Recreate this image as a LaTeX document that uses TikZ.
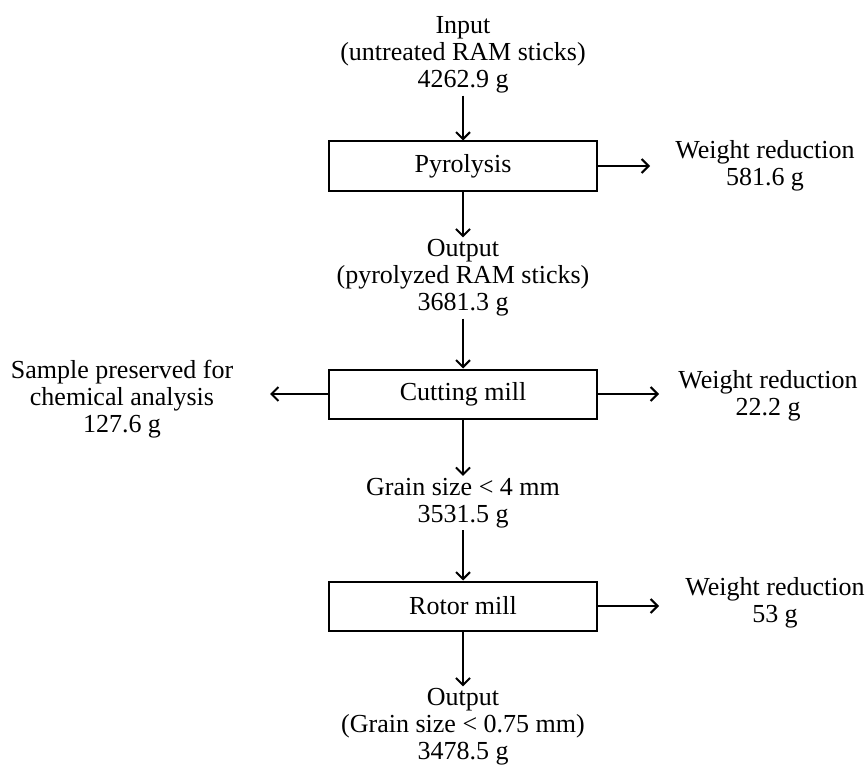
\documentclass[tikz,border=0pt]{standalone}
\usepackage{fontspec}
\setmainfont{Liberation Serif}
\usetikzlibrary{arrows.meta,positioning}

\begin{document}
\begin{tikzpicture}[
  x=1pt, y=1pt,
  every node/.style={font=\fontsize{26}{27}\selectfont, align=center, inner sep=2pt},
  stage/.style={draw, line width=2pt, minimum width=268pt, minimum height=49pt, inner sep=0pt},
  flow/.style={->, line width=2pt},
  >={Straight Barb[length=7pt,width=14pt]}
]
\useasboundingbox (0,0) rectangle (865,-765);
% main line
\node (input) at (463,-55) {Input\\(untreated RAM sticks)\\4262.9 g};
\node[stage] (pyro) at (463,-166) {Pyrolysis};
\node (out1) at (463,-278) {Output\\(pyrolyzed RAM sticks)\\3681.3 g};
\node[stage] (cut) at (463,-394) {Cutting mill};
\node (grain) at (463,-503) {Grain size < 4 mm\\3531.5 g};
\node[stage] (rotor) at (463,-606) {Rotor mill};
\node (out2) at (463,-727) {Output\\(Grain size < 0.75 mm)\\3478.5 g};
% side streams
\node (wr1) at (765,-166) {Weight reduction\\581.6 g};
\node (sample) at (122,-399) {Sample preserved for\\chemical analysis\\127.6 g};
\node (wr2) at (768,-396) {Weight reduction\\22.2 g};
\node (wr3) at (775,-603) {Weight reduction\\53 g};
\coordinate (wr1in) at (650,-166);
\coordinate (samplein) at (270,-394);
\coordinate (wr2in) at (659,-394);
\coordinate (wr3in) at (659,-606);
\draw[flow] (input) -- (pyro);
\draw[flow] (pyro) -- (out1);
\draw[flow] (out1) -- (cut);
\draw[flow] (cut) -- (grain);
\draw[flow] (grain) -- (rotor);
\draw[flow] (rotor) -- (out2);
\draw[flow] (pyro.east) -- (wr1in);
\draw[flow] (cut.west) -- (samplein);
\draw[flow] (cut.east) -- (wr2in);
\draw[flow] (rotor.east) -- (wr3in);
\end{tikzpicture}
\end{document}
